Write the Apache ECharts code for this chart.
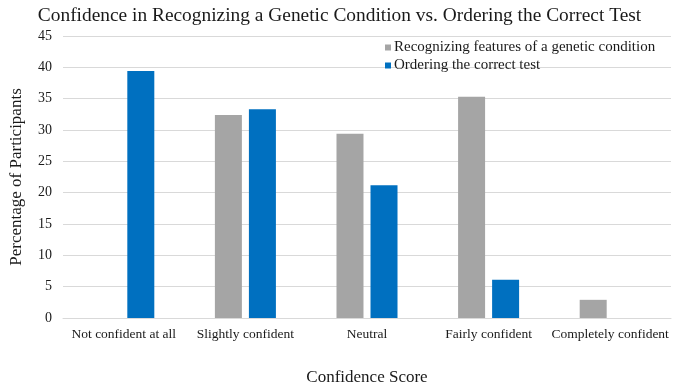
<!DOCTYPE html>
<html>
<head>
<meta charset="utf-8">
<script src="https://cdn.jsdelivr.net/npm/echarts@6/dist/echarts.min.js"></script>
<style>
  html, body { margin: 0; padding: 0; background: #fff; }
  #chart { width: 679px; height: 391px; }
</style>
</head>
<body>
<div id="chart"></div>
<script>
var categories = ["Not confident at all", "Slightly confident", "Neutral", "Fairly confident", "Completely confident"];
var recognizing = [0, 32.4, 29.4, 35.3, 2.9];
var ordering = [39.4, 33.3, 21.2, 6.1, 0];
var seriesNames = ["Recognizing features of a genetic condition", "Ordering the correct test"];

var serif = "'Liberation Serif', 'DejaVu Serif', serif";
var myChart = echarts.init(document.getElementById("chart"));
var option = {
    color: ["#A5A5A5", "#0070C0"],
    title: {
        text: "Confidence in Recognizing a Genetic Condition vs. Ordering the Correct Test",
        left: "center",
        top: 1,
        textStyle: { fontFamily: serif, fontSize: 19.4, fontWeight: "normal", color: "#1a1a1a" }
    },
    legend: {
        orient: "vertical",
        left: 380,
        top: 35,
        itemWidth: 6,
        itemHeight: 6,
        itemGap: 3,
        icon: "rect",
        data: seriesNames,
        textStyle: { fontFamily: serif, fontSize: 15, color: "#1a1a1a", padding: [0, 0, 0, -2] }
    },
    grid: { left: 58, right: 8, top: 36, bottom: 68 },
    xAxis: {
        type: "category",
        data: categories,
        name: "Confidence Score",
        nameLocation: "middle",
        nameGap: 51,
        nameTextStyle: { fontFamily: serif, fontSize: 17, color: "#1a1a1a" },
        axisLine: { lineStyle: { color: "#D9D9D9" } },
        axisTick: { show: false },
        axisLabel: { fontFamily: serif, fontSize: 13.5, color: "#1a1a1a", margin: 9, interval: 0 }
    },
    yAxis: {
        type: "value",
        min: 0,
        max: 45,
        interval: 5,
        name: "Percentage of Participants",
        nameLocation: "middle",
        nameGap: 38,
        nameTextStyle: { fontFamily: serif, fontSize: 17, color: "#1a1a1a" },
        axisLine: { show: false },
        axisTick: { show: false },
        splitLine: { lineStyle: { color: "#D9D9D9" } },
        axisLabel: { fontFamily: serif, fontSize: 14, color: "#1a1a1a", margin: 11 }
    },
    series: [
        { name: seriesNames[0], type: "bar", data: recognizing, barWidth: 27, barGap: "26%" },
        { name: seriesNames[1], type: "bar", data: ordering, barWidth: 27, barGap: "26%" }
    ]
};
myChart.setOption(option);
</script>
</body>
</html>
